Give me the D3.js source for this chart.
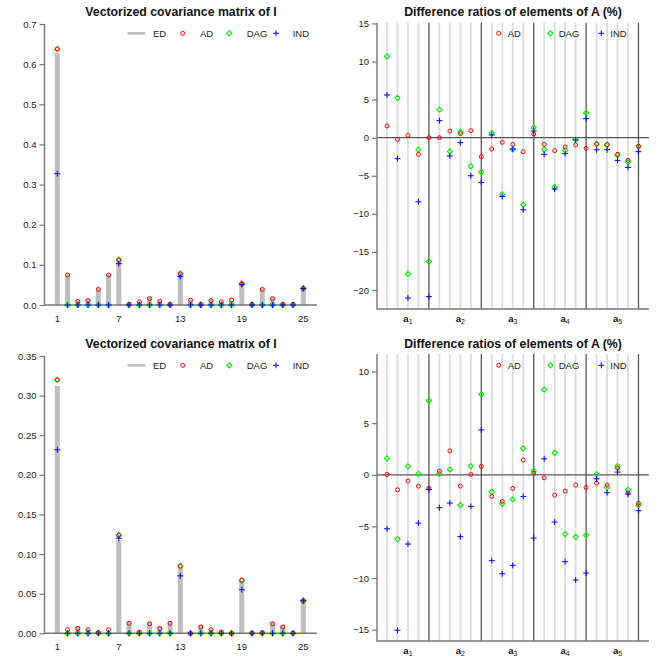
<!DOCTYPE html>
<html><head><meta charset="utf-8">
<script src="https://cdn.jsdelivr.net/npm/d3@7"></script>
<style>body{margin:0;background:#fff}svg{display:block;font-family:"Liberation Sans",Arial,sans-serif}</style>
</head><body><svg id="c" width="664" height="664"></svg>
<script>
// ---------- data ----------
const idx = d3.range(1, 26);
const covTicksTop = [0, 0.1, 0.2, 0.3, 0.4, 0.5, 0.6, 0.7];
const covTicksBot = [0, 0.05, 0.10, 0.15, 0.20, 0.25, 0.30, 0.35];
const covXLabels = [1, 7, 13, 19, 25];

// top-left: vectorized covariance (ED bars, AD / DAG / IND points)
const ED1 = [0.627,0.076,0.011,0.014,0.041,0.076,0.108,0.003,0.009,0.019,0.011,0.003,0.075,0.012,0.003,0.014,0.009,0.012,0.053,0.002,0.041,0.019,0.003,0.002,0.044];
const AD1 = [0.638,0.0746,0.009,0.011,0.039,0.0746,0.112,0.002,0.008,0.016,0.009,0.002,0.077,0.012,0.002,0.011,0.008,0.012,0.052,0.002,0.039,0.016,0.002,0.002,0.041];
const DAG1 = [0.637,0,0,0,0,0,0.113,0,0,0,0,0,0.079,0,0,0,0,0,0.054,0,0,0,0,0,0.042];
const IND1 = [0.327,0,0,0,0,0,0.103,0,0,0,0,0,0.071,0,0,0,0,0,0.051,0,0,0,0,0,0.041];

// bottom-left
const ED2 = [0.312,0.002,0.0093,0.005,0.001,0.002,0.117,0.0147,-0.002,0.0143,0.0093,0.0147,0.083,-0.003,0.0105,0.005,-0.002,-0.003,0.0665,0.0005,0.001,0.0143,0.0105,0.0005,0.0434];
const AD2 = [0.320,0.0046,0.006,0.0046,0.001,0.0046,0.124,0.0126,0.0015,0.012,0.006,0.0126,0.0847,0.0,0.008,0.0046,0.0015,0.0,0.067,0.0005,0.001,0.012,0.008,0.0005,0.041];
const DAG2 = [0.320,0,0,0,0,0,0.1235,0,0,0,0,0,0.085,0,0,0,0,0,0.0668,0,0,0,0,0,0.041];
const IND2 = [0.2317,0,0,0,0,0,0.120,0,0,0,0,0,0.0725,0,0,0,0,0,0.055,0,0,0,0,0,0.041];

// top-right: difference ratios (%)
const diffTicksTop = [-20, -15, -10, -5, 0, 5, 10, 15];
const diffTicksBot = [-15, -10, -5, 0, 5, 10];
const groupLabels = ["1", "2", "3", "4", "5"];
const groupCenters = [3, 8, 13, 18, 23];
const groupBreaks = [5, 10, 15, 20, 25];
const rAD1 = [1.54,-0.22,0.31,-2.19,0,0,0.88,0.53,0.92,-2.5,-1.49,-0.61,-0.88,-1.84,0.48,-0.88,-1.71,-1.23,-0.96,-1.4,-0.83,-0.92,-2.19,-2.98,-1.14];
const rDAG1 = [10.66,5.22,-17.9,-1.58,-16.27,3.68,-1.8,0.75,-3.75,-4.5,0.61,-7.45,-1.52,-8.8,1.32,-1.54,-6.49,-1.67,-0.26,3.25,-0.83,-0.92,-2.3,-3.2,-1.14];
const rIND1 = [5.61,-2.76,-21.05,-8.42,-20.88,2.24,-2.4,-0.66,-5.0,-5.88,0.35,-7.72,-1.5,-9.47,0.88,-2.19,-6.75,-2.1,-0.3,2.5,-1.58,-1.58,-2.98,-3.9,-1.84];

// bottom-right
const rAD2 = [0.03,-1.45,-0.61,-1.1,-1.29,0.35,2.32,-1.1,0.03,0.81,-2.1,-2.58,-1.32,1.42,0.16,-0.29,-1.97,-1.58,-1.0,-1.23,-0.81,-1.0,0.65,-1.77,-2.77];
const rDAG2 = [1.58,-6.23,0.81,0.1,7.16,0.1,0.52,-2.94,0.84,7.8,-1.65,-2.81,-2.39,2.55,0.39,8.26,2.13,-5.74,-6.03,-5.84,0.06,-1.23,0.84,-1.45,-2.94];
const rIND2 = [-5.23,-15.06,-6.71,-4.68,-1.42,-3.19,-2.74,-6.0,-3.06,4.35,-8.32,-9.58,-8.77,-2.1,-6.13,1.55,-4.58,-8.42,-10.19,-9.52,-0.39,-1.74,0.26,-1.87,-3.48];

// ---------- drawing ----------
const svg = d3.select("#c");
const RED = "#ff0000", GREEN = "#00ee00", BLUE = "#0000ff";
const AXC = "#777", TXT = "#222";

function diamondPath(h){ return `M0,${-h}L${h},0L0,${h}L${-h},0Z`; }
function drawCircle(g, x, y){ g.append("circle").attr("cx", x).attr("cy", y).attr("r", 2).attr("fill","none").attr("stroke",RED).attr("stroke-width",1); }
function drawDiamond(g, x, y){ g.append("path").attr("d", diamondPath(2.6)).attr("transform",`translate(${x},${y})`).attr("fill","none").attr("stroke",GREEN).attr("stroke-width",1.1); }
function drawPlus(g, x, y){ g.append("path").attr("d", `M${x-3},${y}H${x+3}M${x},${y-3}V${y+3}`).attr("stroke",BLUE).attr("stroke-width",1); }

function leftAxis(g, y, ticks, fmt, x0){
  const ax = d3.axisLeft(y).tickValues(ticks).tickSize(5).tickPadding(3).tickFormat(fmt);
  const a = g.append("g").attr("transform",`translate(${x0},0)`).call(ax);
  a.select(".domain").remove();
  a.selectAll(".tick line").attr("stroke",AXC).attr("stroke-width",1.2);
  a.selectAll(".tick text").attr("fill",TXT).style("font-size","9.5px").style("font-family","Liberation Sans, Arial, sans-serif");
}

function title(g, x, y, t){
  g.append("text").attr("x",x).attr("y",y).attr("text-anchor","middle")
   .style("font-weight","bold").style("font-size","12.3px").attr("fill","#111").text(t);
}

function points(g, x, y, opt){
  idx.forEach(d=>{ drawDiamond(g, x(d), y(opt.dag[d-1])); });
  idx.forEach(d=>{ drawCircle(g, x(d), y(opt.ad[d-1])); });
  idx.forEach(d=>{ drawPlus(g, x(d), y(opt.ind[d-1])); });
}

function covPanel(opt){
  const g = svg.append("g");
  const x = d3.scaleLinear().domain([1,25]).range([57.3, 303.3]);
  const y = d3.scaleLinear().domain(opt.ydom).range(opt.yrange);
  const y0 = y(0), top = opt.yrange[1];
  title(g, 181, opt.titleY, "Vectorized covariance matrix of I");
  g.selectAll(null).data(idx).join("line")
    .attr("x1", d=>x(d)).attr("x2", d=>x(d))
    .attr("y1", y0).attr("y2", d=>y(opt.ed[d-1]))
    .attr("stroke","#bebebe").attr("stroke-width",5);
  g.append("path").attr("d",`M44.5,${top}V${y0}H317`).attr("fill","none").attr("stroke",AXC).attr("stroke-width",1.4);
  leftAxis(g, y, opt.ticks, opt.fmt, 44.5);
  g.selectAll(null).data(covXLabels).join("text")
    .attr("x", d=>x(d)).attr("y", y0 + 17).attr("text-anchor","middle")
    .style("font-size","9.5px").attr("fill",TXT).text(d=>d);
  points(g, x, y, opt);
  const ly = opt.legY;
  g.append("line").attr("x1",127.5).attr("x2",145.5).attr("y1",ly).attr("y2",ly).attr("stroke","#bebebe").attr("stroke-width",2.5);
  drawCircle(g, 182.7, ly); drawDiamond(g, 229.3, ly); drawPlus(g, 276, ly);
  [[153,"ED"],[200,"AD"],[246.7,"DAG"],[292.7,"IND"]].forEach(([lx,t])=> g.append("text").attr("x",lx).attr("y",ly).attr("dy","0.35em").style("font-size","9.5px").attr("fill",TXT).text(t));
}

function diffPanel(opt){
  const g = svg.append("g");
  const x = d3.scaleLinear().domain([1,25]).range([387, 638.5]);
  const y = d3.scaleLinear().domain(opt.ydom).range(opt.yrange);
  const top = opt.yrange[1], bot = opt.yrange[0];
  title(g, 513, opt.titleY, "Difference ratios of elements of A (%)");
  g.selectAll(null).data(idx.filter(d=>!groupBreaks.includes(d))).join("line")
    .attr("x1",d=>x(d)).attr("x2",d=>x(d)).attr("y1",top).attr("y2",bot)
    .attr("stroke","#dcdcdc").attr("stroke-width",1.8);
  g.selectAll(null).data(groupBreaks).join("line")
    .attr("x1",d=>x(d)).attr("x2",d=>x(d)).attr("y1",top).attr("y2",bot)
    .attr("stroke","#555").attr("stroke-width",1.3);
  g.append("line").attr("x1",377).attr("x2",649).attr("y1",y(0)).attr("y2",y(0)).attr("stroke","#555").attr("stroke-width",1.2);
  g.append("path").attr("d",`M377,${top}V${bot}H649`).attr("fill","none").attr("stroke",AXC).attr("stroke-width",1.4);
  leftAxis(g, y, opt.ticks, d3.format("d"), 377);
  groupCenters.forEach((c,i)=>{
    const t = g.append("text").attr("x",x(c)).attr("y",bot+13).attr("text-anchor","middle").style("font-size","9.5px").attr("fill","#111");
    t.append("tspan").style("font-weight","bold").text("a");
    t.append("tspan").attr("dy",2).style("font-size","7px").text(groupLabels[i]);
  });
  points(g, x, y, opt);
  const ly = opt.legY;
  drawCircle(g, 498.7, ly); drawDiamond(g, 550.3, ly); drawPlus(g, 601.3, ly);
  [[507.7,"AD"],[558.7,"DAG"],[610.3,"IND"]].forEach(([lx,t])=> g.append("text").attr("x",lx).attr("y",ly).attr("dy","0.35em").style("font-size","9.5px").attr("fill",TXT).text(t));
}

covPanel({ydom:[0,0.7], yrange:[305,24], ticks:covTicksTop, fmt:d3.format(".1f"), ed:ED1, ad:AD1, dag:DAG1, ind:IND1, titleY:16, legY:33.3});
covPanel({ydom:[0,0.35], yrange:[633.3,356], ticks:covTicksBot, fmt:d3.format(".2f"), ed:ED2, ad:AD2, dag:DAG2, ind:IND2, titleY:348, legY:365.3});
diffPanel({ydom:[-22.5,15.1], yrange:[309,22.7], ticks:diffTicksTop, ad:rAD1, dag:rDAG1, ind:rIND1, titleY:16, legY:33.3});
diffPanel({ydom:[-16.1,11.7], yrange:[641,354], ticks:diffTicksBot, ad:rAD2, dag:rDAG2, ind:rIND2, titleY:348, legY:365.3});
</script></body></html>
